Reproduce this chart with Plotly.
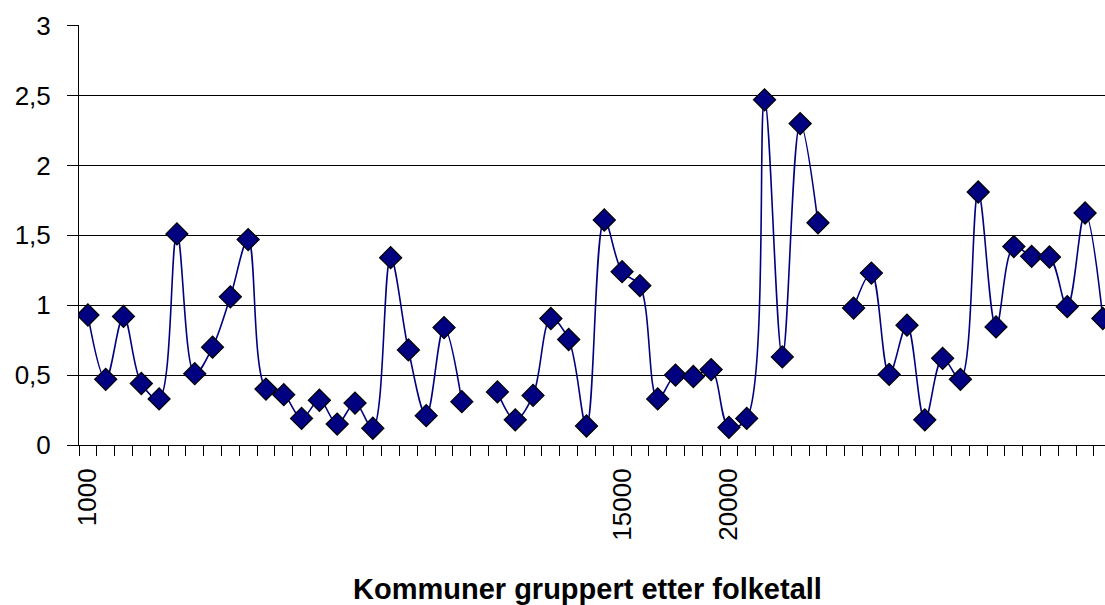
import plotly.graph_objects as go

# Category index (municipalities grouped by population); None = missing value
categories = list(range(58))
values = [
    0.93, 0.47, 0.92, 0.44, 0.33, 1.51, 0.51, 0.70, 1.06, 1.47,
    0.40, 0.36, 0.19, 0.32, 0.15, 0.30, 0.12, 1.34, 0.68, 0.21,
    0.84, 0.31, None, 0.38, 0.18, 0.355, 0.905, 0.755, 0.136, 1.61,
    1.24, 1.14, 0.33, 0.50, 0.49, 0.54, 0.126, 0.19, 2.47, 0.63,
    2.30, 1.59, None, 0.98, 1.23, 0.505, 0.857, 0.18, 0.62, 0.47,
    1.81, 0.845, 1.42, 1.35, 1.345, 0.99, 1.66, 0.905,
]
x_tick_positions = [0, 30, 36]
x_tick_labels = ["1000", "15000", "20000"]
y_tick_values = [0, 0.5, 1, 1.5, 2, 2.5, 3]
y_tick_labels = ["0", "0,5", "1", "1,5", "2", "2,5", "3"]
x_title = "Kommuner gruppert etter folketall"

FONT = "Arial, 'Liberation Sans', sans-serif"

fig = go.Figure()
fig.add_trace(go.Scatter(
    x=categories, y=values,
    mode="lines+markers",
    connectgaps=False,
    line=dict(color="#000080", width=1.6, shape="spline", smoothing=1),
    marker=dict(symbol="diamond", size=17, color="#000080",
                line=dict(color="black", width=1.2)),
    showlegend=False,
))

fig.update_layout(
    width=1105, height=605,
    margin=dict(l=79, r=0, t=25, b=160),
    paper_bgcolor="white", plot_bgcolor="white",
    font=dict(family=FONT, size=25, color="black"),
)
fig.update_xaxes(
    range=[-0.5, 57.12],
    tickmode="array", tickvals=x_tick_positions, ticktext=x_tick_labels,
    tickangle=-90, ticks="", showgrid=False, zeroline=False,
    showline=True, linecolor="black", linewidth=1,
    ticklabelstandoff=12,
    tickfont=dict(family=FONT, size=26, color="black"),
    minor=dict(ticks="outside", ticklen=10, tickcolor="black", tickwidth=1,
               tick0=-0.5, dtick=1, showgrid=False),
)
fig.update_yaxes(
    range=[0, 3.005],
    tickmode="array", tickvals=y_tick_values, ticktext=y_tick_labels,
    ticks="outside", ticklen=11, tickcolor="black", tickwidth=1,
    ticklabelstandoff=11,
    showgrid=True, gridcolor="black", gridwidth=1, zeroline=False,
    showline=True, linecolor="black", linewidth=1,
    tickfont=dict(family=FONT, size=26, color="black"),
)
fig.add_annotation(
    text="<b>" + x_title + "</b>",
    xref="paper", yref="paper", x=0.496, y=(420 - 589 + 25) / 420,
    xanchor="center", yanchor="middle", showarrow=False,
    font=dict(family=FONT, size=29, color="black"),
)

# remove the default 8px page margin so the figure fills the window exactly
fig.write_html("out.html",
               config={"displayModeBar": False},
               post_script="document.body.style.margin='0';document.body.style.overflow='hidden';")
